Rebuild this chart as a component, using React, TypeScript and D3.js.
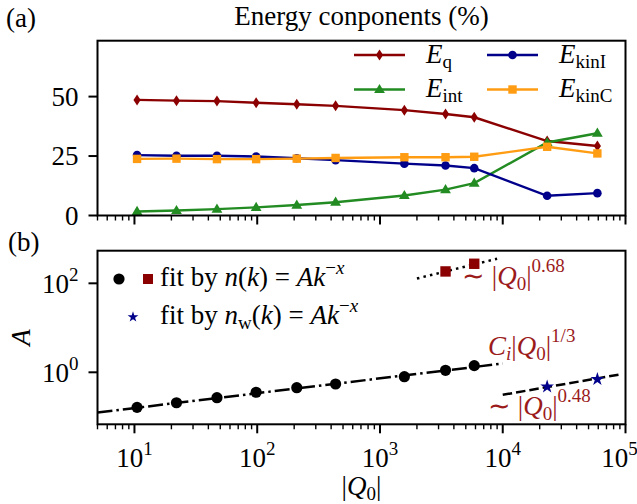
import React from "react";
import * as d3 from "d3";

// ---------- data ----------
const Q = [10.5, 22, 47, 98, 210, 435, 1580, 3420, 5860, 23000, 59000];
const Eq = [48.6, 48.3, 48.1, 47.4, 46.8, 46.1, 44.3, 42.7, 41.3, 31.3, 29.2];
const Eint = [1.7, 2.1, 2.7, 3.4, 4.4, 5.6, 8.4, 10.9, 13.6, 30.7, 34.6];
const EkinI = [25.4, 25.1, 25.1, 24.8, 24.1, 23.3, 21.8, 21.0, 19.9, 8.3, 9.4];
const EkinC = [23.8, 23.9, 23.7, 23.7, 23.9, 24.2, 24.5, 24.5, 24.7, 28.9, 26.1];

const Qn = [10.5, 22, 47, 98, 210, 435, 1580, 3420, 5860];
const An = [0.163, 0.207, 0.269, 0.356, 0.451, 0.546, 0.796, 1.11, 1.41];
const Qsq = [3420, 5860];
const Asq = [185, 275];
const Qstar = [23000, 59000];
const Astar = [0.475, 0.696];

// power-law fits: A = coef * Q^exp over [q0, q1]
const fitCi = { coef: 0.073, exp: 1 / 3, q0: 5, q1: 10000 };
const fit068 = { coef: 0.73, exp: 0.68, q0: 2000, q1: 9000 };
const fit048 = { coef: 0.00375, exp: 0.48, q0: 10000, q1: 90000 };

const yTicksTop = [0, 25, 50];
const xMajor = [1, 2, 3, 4, 5];
const yMajorBottom = [0, 2];

// ---------- layout ----------
const FONT = '"Liberation Serif"';
const FS = 27;
const SS = 19;
const X0 = 97.5, X1 = 625.5;
const T0 = 40.7, T1 = 215.5;
const B0 = 250.7, B1 = 424.3;
const RED = "#8B0000";
const BLUE = "#00008B";
const GREEN = "#228B22";
const ORANGE = "#FF9C12";
const ANN = "#9B1B1B";

const x = d3.scaleLog().domain([5, 1e5]).range([X0, X1]);
const yT = d3.scaleLinear().domain([0, 73.5]).range([T1, T0]);
const yB = d3.scaleLog().domain([0.0678, 541]).range([B1, B0]);

const minorTicks: number[] = [];
for (let e = 0; e <= 4; e++) {
  for (let m = 2; m <= 9; m++) {
    const v = m * Math.pow(10, e);
    if (v >= 5 && v < 1e5) minorTicks.push(v);
  }
}

function diamond(cx: number, cy: number) {
  return `M${cx},${cy - 5.5}L${cx + 3.6},${cy}L${cx},${cy + 5.5}L${cx - 3.6},${cy}Z`;
}
function tri(cx: number, cy: number) {
  return `M${cx},${cy - 5.6}L${cx + 5.4},${cy + 3.6}L${cx - 5.4},${cy + 3.6}Z`;
}

const tStyle: React.CSSProperties = { fontFamily: FONT };

function XTicks({ y0 }: { y0: number }) {
  return (
    <g stroke="black">
      {minorTicks.map((v, i) => (
        <line key={"m" + i} x1={x(v)} x2={x(v)} y1={y0} y2={y0 + 5} strokeWidth={1.4} />
      ))}
      {xMajor.map((e) => (
        <line key={"M" + e} x1={x(Math.pow(10, e))} x2={x(Math.pow(10, e))} y1={y0} y2={y0 + 9} strokeWidth={2} />
      ))}
    </g>
  );
}

function Series({ vals, color, marker }: { vals: number[]; color: string; marker: string }) {
  const line = d3.line<number>().x((_, i) => x(Q[i])).y((d) => yT(d));
  return (
    <g>
      <path d={line(vals) || ""} fill="none" stroke={color} strokeWidth={2.4} />
      {vals.map((v, i) => {
        const cx = x(Q[i]), cy = yT(v);
        if (marker === "d") return <path key={i} d={diamond(cx, cy)} fill={color} />;
        if (marker === "o") return <circle key={i} cx={cx} cy={cy} r={4.3} fill={color} />;
        if (marker === "s") return <rect key={i} x={cx - 4.2} y={cy - 4.2} width={8.4} height={8.4} fill={color} />;
        return <path key={i} d={tri(cx, cy)} fill={color} />;
      })}
    </g>
  );
}

function LegendEntry({ lx, ly, color, marker, name, sub }: any) {
  const cx = lx + 25.5;
  let m: any;
  if (marker === "d") m = <path d={diamond(cx, ly)} fill={color} />;
  else if (marker === "o") m = <circle cx={cx} cy={ly} r={4.3} fill={color} />;
  else if (marker === "s") m = <rect x={cx - 4.2} y={ly - 4.2} width={8.4} height={8.4} fill={color} />;
  else m = <path d={tri(cx, ly)} fill={color} />;
  return (
    <g>
      <line x1={lx} x2={lx + 51} y1={ly} y2={ly} stroke={color} strokeWidth={2.4} />
      {m}
      <text x={lx + 72} y={ly + 7.5} fontSize={FS} style={tStyle}>
        <tspan fontStyle="italic">{name}</tspan>
        <tspan fontSize={SS} dy={5}>{sub}</tspan>
      </text>
    </g>
  );
}

function fitLine(f: { coef: number; exp: number; q0: number; q1: number }) {
  const pts = [f.q0, f.q1];
  const line = d3.line<number>().x((q) => x(q)).y((q) => yB(f.coef * Math.pow(q, f.exp)));
  return line(pts) || "";
}

const starPath = (size: number) => d3.symbol().type(d3.symbolStar).size(size)() || "";

export default function App() {
  return (
    <svg width={637} height={504} style={{ position: "absolute", left: 0, top: 0, fontFamily: FONT }}>
      <rect width={637} height={504} fill="white" />
      {/* ---------- panel (a) ---------- */}
      <text x={6} y={27} fontSize={FS} style={tStyle}>(a)</text>
      <text x={(X0 + X1) / 2} y={25} fontSize={FS} textAnchor="middle" style={tStyle}>Energy conponents (%)</text>

      <Series vals={Eq} color={RED} marker="d" />
      <Series vals={Eint} color={GREEN} marker="^" />
      <Series vals={EkinI} color={BLUE} marker="o" />
      <Series vals={EkinC} color={ORANGE} marker="s" />

      <LegendEntry lx={354} ly={55} color={RED} marker="d" name="E" sub="q" />
      <LegendEntry lx={354} ly={89.5} color={GREEN} marker="^" name="E" sub="int" />
      <LegendEntry lx={487} ly={55} color={BLUE} marker="o" name="E" sub="kinI" />
      <LegendEntry lx={487} ly={89.5} color={ORANGE} marker="s" name="E" sub="kinC" />

      <rect x={X0} y={T0} width={X1 - X0} height={T1 - T0} fill="none" stroke="black" strokeWidth={2} />
      <XTicks y0={T1} />
      {yTicksTop.map((v) => (
        <g key={v}>
          <line x1={X0 - 9} x2={X0} y1={yT(v)} y2={yT(v)} stroke="black" strokeWidth={2} />
          <text x={X0 - 19} y={yT(v) + 9} fontSize={FS} textAnchor="end" style={tStyle}>{v}</text>
        </g>
      ))}

      {/* ---------- panel (b) ---------- */}
      <text x={8} y={251} fontSize={FS} style={tStyle}>(b)</text>

      <path d={fitLine(fitCi)} fill="none" stroke="black" strokeWidth={2.5} strokeDasharray="15,4,2.5,4" />
      <path d={fitLine(fit068)} fill="none" stroke="black" strokeWidth={2.5} strokeDasharray="2.5,4.2" />
      <path d={fitLine(fit048)} fill="none" stroke="black" strokeWidth={2.5} strokeDasharray="9.5,4" />

      {Qn.map((q, i) => (
        <circle key={"c" + i} cx={x(q)} cy={yB(An[i])} r={5.6} fill="black" />
      ))}
      {Qsq.map((q, i) => (
        <rect key={"s" + i} x={x(q) - 5.2} y={yB(Asq[i]) - 5.2} width={10.4} height={10.4} fill={RED} />
      ))}
      {Qstar.map((q, i) => (
        <path key={"st" + i} d={starPath(58)} transform={`translate(${x(q)},${yB(Astar[i])})`} fill={BLUE} />
      ))}

      {/* legend */}
      <circle cx={119} cy={279} r={5.6} fill="black" />
      <rect x={143} y={274} width={10} height={10} fill={RED} />
      <text x={160} y={286} fontSize={FS} style={tStyle}>
        fit by <tspan fontStyle="italic">n</tspan>(<tspan fontStyle="italic">k</tspan>) = <tspan fontStyle="italic">Ak</tspan>
        <tspan fontSize={SS} dy={-12}>−<tspan fontStyle="italic">x</tspan></tspan>
      </text>
      <path d={starPath(36)} transform="translate(133,317)" fill={BLUE} />
      <text x={160} y={324} fontSize={FS} style={tStyle}>
        fit by <tspan fontStyle="italic">n</tspan><tspan fontSize={SS} dy={5}>w</tspan>
        <tspan dy={-5}>(</tspan><tspan fontStyle="italic">k</tspan>) = <tspan fontStyle="italic">Ak</tspan>
        <tspan fontSize={SS} dy={-12}>−<tspan fontStyle="italic">x</tspan></tspan>
      </text>

      {/* annotations */}
      <text x={462} y={285} fontSize={FS} fill={ANN} style={tStyle}>
        ∼ |<tspan fontStyle="italic">Q</tspan><tspan fontSize={SS} dy={5}>0</tspan>
        <tspan dy={-5}>|</tspan><tspan fontSize={SS} dy={-13}>0.68</tspan>
      </text>
      <text x={488} y={355} fontSize={FS} fill={ANN} style={tStyle}>
        <tspan fontStyle="italic">C</tspan><tspan fontSize={SS} dy={5} fontStyle="italic">i</tspan>
        <tspan dy={-5}>|</tspan><tspan fontStyle="italic">Q</tspan><tspan fontSize={SS} dy={5}>0</tspan>
        <tspan dy={-5}>|</tspan><tspan fontSize={SS} dy={-13}>1/3</tspan>
      </text>
      <text x={488} y={415} fontSize={FS} fill={ANN} style={tStyle}>
        ∼ |<tspan fontStyle="italic">Q</tspan><tspan fontSize={SS} dy={5}>0</tspan>
        <tspan dy={-5}>|</tspan><tspan fontSize={SS} dy={-13}>0.48</tspan>
      </text>

      <rect x={X0} y={B0} width={X1 - X0} height={B1 - B0} fill="none" stroke="black" strokeWidth={2} />
      <XTicks y0={B1} />
      {xMajor.map((e) => (
        <text key={e} x={x(Math.pow(10, e)) - (e === 5 ? 6 : 0)} y={467} fontSize={FS} textAnchor="middle" style={tStyle}>
          10<tspan fontSize={SS} dy={-12}>{e}</tspan>
        </text>
      ))}
      {yMajorBottom.map((e) => (
        <g key={e}>
          <line x1={X0 - 9} x2={X0} y1={yB(Math.pow(10, e))} y2={yB(Math.pow(10, e))} stroke="black" strokeWidth={2} />
          <text x={X0 - 19} y={yB(Math.pow(10, e)) + 10} fontSize={FS} textAnchor="end" style={tStyle}>
            10<tspan fontSize={SS} dy={-12}>{e}</tspan>
          </text>
        </g>
      ))}
      <text x={(X0 + X1) / 2} y={495} fontSize={FS} textAnchor="middle" style={tStyle}>
        |<tspan fontStyle="italic">Q</tspan><tspan fontSize={SS} dy={5}>0</tspan><tspan dy={-5}>|</tspan>
      </text>
      <text transform={`translate(30,${(B0 + B1) / 2}) rotate(-90)`} fontSize={FS} textAnchor="middle" fontStyle="italic" style={tStyle}>A</text>
    </svg>
  );
}
